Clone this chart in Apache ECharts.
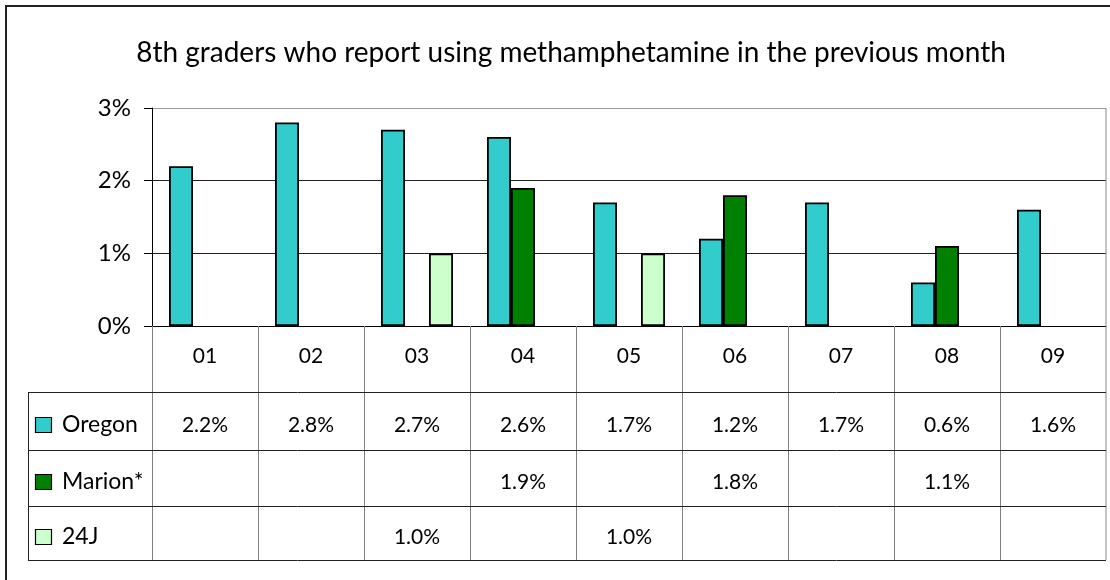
<!DOCTYPE html>
<html>
<head>
<meta charset="utf-8">
<script src="https://cdn.jsdelivr.net/npm/echarts@6/dist/echarts.min.js"></script>
<style>
  html, body { margin: 0; padding: 0; background: #fff; }
  #chart { width: 1110px; height: 580px; }
</style>
</head>
<body>
<div id="chart"></div>
<script>
// data
var years = ['01', '02', '03', '04', '05', '06', '07', '08', '09']
var oregon = [2.2, 2.8, 2.7, 2.6, 1.7, 1.2, 1.7, 0.6, 1.6]
var marion = [null, null, null, 1.9, null, 1.8, null, 1.1, null]
var j24 = [null, null, 1.0, null, 1.0, null, null, null, null]
var seriesNames = ['Oregon', 'Marion*', '24J']
var colors = ['#33CCCC', '#008000', '#CCFFCC']
var yTicks = [0, 1, 2, 3]

var font = 'Lato, "Open Sans", sans-serif'
var gridLeft = 152, gridTop = 108, gridW = 954, gridH = 218
// table rows under the plot (header row holds the axis labels)
var rowLines = [392, 450, 506, 560]
var tableLeft = 28

var chart = echarts.init(document.getElementById('chart'))

var option = {
  animation: false,
  color: colors,
  title: {
    text: '8th graders who report using methamphetamine in the previous month',
    left: 566,
    top: 34,
    textAlign: 'center',
    textStyle: { fontFamily: font, fontSize: 28, fontWeight: 'normal', color: '#000' }
  },
  grid: { left: gridLeft, top: gridTop, width: gridW, height: gridH, containLabel: false },
  xAxis: {
    type: 'category',
    data: years,
    axisLine: { lineStyle: { color: '#000', width: 1 } },
    axisTick: { show: false },
    axisLabel: { margin: 20, fontFamily: font, fontSize: 21, color: '#000' }
  },
  yAxis: {
    type: 'value',
    min: yTicks[0],
    max: yTicks[yTicks.length - 1],
    interval: 1,
    axisLine: { show: true, lineStyle: { color: '#000', width: 1 } },
    axisTick: { show: true, length: 8, lineStyle: { color: '#000' } },
    axisLabel: { margin: 21, fontFamily: font, fontSize: 24, color: '#000', formatter: '{value}%' },
    splitLine: { lineStyle: { color: ['#222', '#222', '#222', '#999'], width: 1 } }
  },
  series: [
    { name: seriesNames[0], type: 'bar', data: oregon },
    { name: seriesNames[1], type: 'bar', data: marion },
    { name: seriesNames[2], type: 'bar', data: j24 }
  ].map(function (s) {
    s.barWidth = 24
    s.barGap = '0%'
    s.itemStyle = { borderColor: '#000', borderWidth: 1.8 }
    return s
  })
}
chart.setOption(option)

// data table drawn under the plot, columns taken from the category axis
function buildTable() {
  var g = []
  var c0 = chart.convertToPixel({ xAxisIndex: 0 }, years[0])
  var c1 = chart.convertToPixel({ xAxisIndex: 0 }, years[1])
  var band = c1 - c0
  var right = gridLeft + gridW
  var bottom = gridTop + gridH

  // outer frame
  g.push({ type: 'rect', shape: { x: 6, y: 6, width: 1300, height: 800 },
    style: { fill: null, stroke: '#222', lineWidth: 2 }, z: 0 })
  // plot border right side + table right edge
  g.push({ type: 'line', shape: { x1: right, y1: gridTop, x2: right, y2: rowLines[3] },
    style: { stroke: '#888', lineWidth: 1 }, z: 10 })

  // column lines
  for (var i = 0; i < years.length; i++) {
    var x = Math.round(c0 - band / 2 + i * band) + 0.5
    g.push({ type: 'line', shape: { x1: x, y1: bottom, x2: x, y2: rowLines[3] },
      style: { stroke: '#808080', lineWidth: 1 }, z: 10 })
  }
  // row lines
  rowLines.forEach(function (y) {
    g.push({ type: 'line', shape: { x1: tableLeft, y1: y + 0.5, x2: right, y2: y + 0.5 },
      style: { stroke: '#222', lineWidth: 1 }, z: 10 })
  })
  g.push({ type: 'line', shape: { x1: tableLeft + 0.5, y1: rowLines[0], x2: tableLeft + 0.5, y2: rowLines[3] },
    style: { stroke: '#222', lineWidth: 1 }, z: 10 })

  var rows = [oregon, marion, j24]
  rows.forEach(function (vals, r) {
    var cy = (rowLines[r] + rowLines[r + 1]) / 2 + 4
    // legend key
    g.push({ type: 'rect', shape: { x: 35.5, y: Math.round(cy - 8) + 0.5, width: 16, height: 15 },
      style: { fill: colors[r], stroke: '#000', lineWidth: 1.2 }, z: 11 })
    g.push({ type: 'text', x: 62, y: cy,
      style: { text: seriesNames[r], fontFamily: font, fontSize: 23, fill: '#000',
        textAlign: 'left', textVerticalAlign: 'middle' }, z: 11 })
    vals.forEach(function (v, i) {
      if (v == null) return
      g.push({ type: 'text', x: chart.convertToPixel({ xAxisIndex: 0 }, years[i]), y: cy,
        style: { text: v.toFixed(1) + '%', fontFamily: font, fontSize: 21, fill: '#000',
          textAlign: 'center', textVerticalAlign: 'middle' }, z: 11 })
    })
  })
  chart.setOption({ graphic: g })
}
buildTable()
</script>
</body>
</html>
